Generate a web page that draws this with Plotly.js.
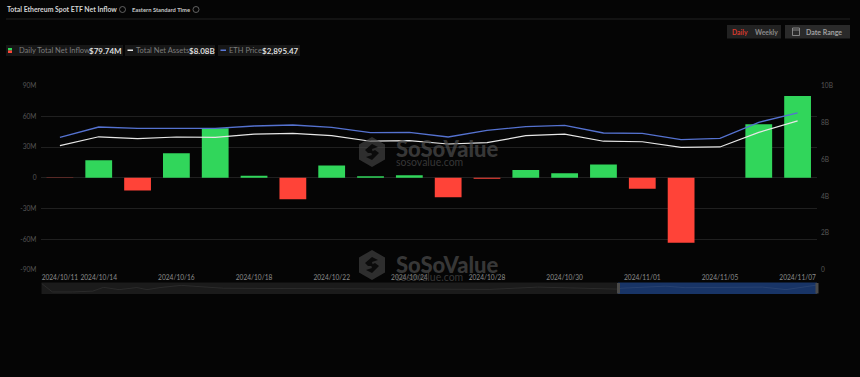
<!DOCTYPE html>
<html><head><meta charset="utf-8">
<script src="https://cdn.plot.ly/plotly-3.0.1.min.js"></script>
<style>html,body{margin:0;padding:0;background:#050505;overflow:hidden}#c{width:860px;height:377px}</style>
</head><body><div id="c"></div>
<script>
const dates=['2024/10/11','2024/10/14','2024/10/15','2024/10/16','2024/10/17','2024/10/18','2024/10/21','2024/10/22','2024/10/23','2024/10/24','2024/10/25','2024/10/28','2024/10/29','2024/10/30','2024/10/31','2024/11/01','2024/11/04','2024/11/05','2024/11/06','2024/11/07'];
const inflow=[-0.3,17,-12.5,24,48.4,2,-21,12,1.5,2.5,-19,-1,7.5,4.3,13,-10.7,-63.4,0,52.3,79.74];
const assets=[6.74,7.22,7.12,7.21,7.19,7.36,7.41,7.28,6.98,7.01,6.83,6.90,7.28,7.36,6.98,6.95,6.65,6.67,7.46,8.08];
const ethPrice=[2446,2635,2611,2611,2611,2654,2672,2630,2530,2538,2451,2575,2641,2667,2525,2519,2401,2427,2722,2895.47];
const xTickDates=['2024/10/11','2024/10/14','2024/10/16','2024/10/18','2024/10/22','2024/10/24','2024/10/28','2024/10/30','2024/11/01','2024/11/05','2024/11/07'];
const leftTicks=[-90,-60,-30,0,30,60,90];
const leftLabels=['-90M','-60M','-30M','0','30M','60M','90M'];
const rightTicks=[0,2,4,6,8,10];
const rightLabels=['0','2B','4B','6B','8B','10B'];
const overviewPos=[0,1.4,4,6.6,8,10,12.3,13.6,15.3,18,23.5,30,40,52,56.5,57.8,64,74.5,74.7,80.5,83,93,96,100];
const overviewVal=[92,18,18,25,58,38,56,38,56,75,50,47,42,40,38,40,60,42,50,68,55,60,38,78];

const W=860,H=377;
const FONT='Lato';
const px=x=>x/W, py=y=>1-y/H;
const rect=(x0,y0,x1,y1,fill,layer)=>({type:'rect',xref:'paper',yref:'paper',x0:px(x0),x1:px(x1),y0:py(y0),y1:py(y1),fillcolor:fill,line:{width:0},layer:layer||'below'});
const line=(x0,y0,x1,y1,c,w)=>({type:'line',xref:'paper',yref:'paper',x0:px(x0),x1:px(x1),y0:py(y0),y1:py(y1),line:{color:c,width:w||1},layer:'below'});
const circ=(cx,cy,r,c)=>({type:'circle',xref:'paper',yref:'paper',x0:px(cx-r),x1:px(cx+r),y0:py(cy+r),y1:py(cy-r),line:{color:c,width:0.8},fillcolor:'rgba(0,0,0,0)',layer:'below'});
const poly=(pts,fill)=>({type:'path',xref:'paper',yref:'paper',path:'M'+pts.map(p=>px(p[0])+','+py(p[1])).join('L')+'Z',fillcolor:fill,line:{width:0},layer:'above'});
const hex=(cx,cy)=>{const r=15,k=13;return [
 poly([[cx,cy-r],[cx+k,cy-r/2],[cx+k,cy+r/2],[cx,cy+r],[cx-k,cy+r/2],[cx-k,cy-r/2]],'rgba(72,72,72,0.62)'),
 poly([[cx-7,cy-2],[cx,cy-8],[cx+6,cy-5],[cx,cy-3],[cx+1,cy+1],[cx-4,cy+1]],'#0b0b0b'),
 poly([[cx+7,cy+1],[cx,cy+8],[cx-6,cy+5],[cx,cy+3],[cx-1,cy],[cx+3,cy-2]],'#0b0b0b')];};
const txt=(x,y,t,size,color,anchor,weight)=>({xref:'paper',yref:'paper',x:px(x),y:py(y),text:t,showarrow:false,xanchor:anchor||'left',yanchor:'middle',borderpad:0,font:{size,color,family:FONT,weight:weight||400}});

const shapes=[
 line(6,19,850,19,'#232323',1),
 circ(122.5,9.5,3,'#777'),circ(196,9.5,3,'#777'),
 rect(6,45,123,56,'#171717'),rect(125,45,215,56,'#171717'),rect(218,45,300,56,'#171717'),
 rect(8,48,12,50.5,'#31d65b'),rect(8,50.5,12,53,'#ff4338'),
 rect(127.5,49.5,133,51,'#e8e8e8'),rect(220.5,49.5,226,51,'#5b78d8'),
 rect(727,25,781,38.5,'#222222'),rect(785,25,850,38.5,'#2a2a2a'),
 {type:'rect',xref:'paper',yref:'paper',x0:px(792.5),x1:px(799.5),y0:py(35.5),y1:py(28),line:{color:'#9a9a9a',width:0.8},fillcolor:'rgba(0,0,0,0)',layer:'below'},
 line(792.5,30,799.5,30,'#9a9a9a',0.8),
 rect(41.5,282.5,618,294,'#1b1b1b'),
 rect(618,282.5,817,294,'#183466'),
 rect(617,283,620,293.5,'#4a4a4a','above'),rect(815.5,283,818.5,293.5,'#4a4a4a','above'),
 ...hex(372,152),...hex(372,265)
];
const annotations=[
 txt(5.5,9.5,'Total Ethereum Spot ETF Net Inflow',6.9,'#d4d4d4','left',700),
 txt(130.5,9.5,'Eastern Standard Time',5.8,'#c8c8c8','left',700),
 txt(17.5,50.5,'Daily Total Net Inflow',7.5,'#7d7d7d'),
 txt(87.5,50.5,'$79.74M',8,'#dcdcdc','left',700),
 txt(134.5,50.5,'Total Net Assets',7.5,'#7d7d7d'),
 txt(187.5,50.5,'$8.08B',8,'#dcdcdc','left',700),
 txt(227.5,50.5,'ETH Price',7.5,'#7d7d7d'),
 txt(260.5,50.5,'$2,895.47',8,'#dcdcdc','left',700),
 txt(730.5,32,'Daily',6.8,'#d63a2e','left',700),
 txt(754,32,'Weekly',6.8,'#8a8a8a','left',700),
 txt(804.5,32,'Date Range',7,'#a0a0a0','left',700),
 txt(395,149,'SoSoValue',22,'rgba(78,78,78,0.7)','left',900),
 txt(395,162,'sosovalue.com',10.5,'rgba(78,78,78,0.7)','left',400),
 txt(395,264,'SoSoValue',22,'rgba(78,78,78,0.7)','left',900),
 txt(395,277,'sosovalue.com',10.5,'rgba(78,78,78,0.7)','left',400)
];

const traces=[
 {type:'bar',x:dates,y:inflow,yaxis:'y',xaxis:'x',marker:{color:inflow.map(v=>v>=0?'#31d65b':'#ff4338')},hoverinfo:'skip',showlegend:false},
 {type:'scatter',mode:'lines',x:dates,y:assets,yaxis:'y2',xaxis:'x',line:{color:'#e6e6e6',width:1.2},hoverinfo:'skip',showlegend:false},
 {type:'scatter',mode:'lines',x:dates,y:ethPrice,yaxis:'y3',xaxis:'x',line:{color:'#5572d0',width:1.3},hoverinfo:'skip',showlegend:false},
 {type:'scatter',mode:'lines',x:overviewPos,y:overviewVal,xaxis:'x2',yaxis:'y4',line:{color:'rgba(255,255,255,0.09)',width:0.8},hoverinfo:'skip',showlegend:false}
];
const layout={
 width:W,height:H,margin:{l:0,r:0,t:0,b:0},paper_bgcolor:'#050505',plot_bgcolor:'rgba(0,0,0,0)',
 bargap:0.31,showlegend:false,font:{family:FONT},
 xaxis:{domain:[px(40.5),px(817)],type:'category',categoryorder:'array',categoryarray:dates,range:[-0.5,19.5],anchor:'y',tickmode:'array',tickvals:xTickDates,ticktext:xTickDates,tickfont:{size:6.6,color:'#8c8c8c'},showgrid:false,zeroline:false,showline:false,ticks:'',tickangle:0,ticklabelstandoff:2},
 yaxis:{domain:[py(270),py(85.5)],range:[-90,90],tickmode:'array',tickvals:leftTicks,ticktext:leftLabels,tickfont:{size:6.6,color:'#565656'},gridcolor:'#202020',gridwidth:1,zeroline:false,showline:false,ticks:'',ticklabelstandoff:3},
 yaxis2:{domain:[py(270),py(85.5)],overlaying:'y',side:'right',range:[0,10],tickmode:'array',tickvals:rightTicks,ticktext:rightLabels,tickfont:{size:6.6,color:'#565656'},showgrid:false,zeroline:false,showline:false,ticks:'',ticklabelstandoff:3,anchor:'x'},
 yaxis3:{domain:[py(270),py(85.5)],overlaying:'y',side:'right',range:[0,3400],visible:false,showgrid:false,zeroline:false,anchor:'x'},
 xaxis2:{domain:[px(41.5),px(817)],range:[0,100],visible:false,anchor:'y4',fixedrange:true},
 yaxis4:{domain:[py(294),py(282.5)],range:[0,100],visible:false,anchor:'x2',fixedrange:true},
 shapes,annotations
};
Plotly.newPlot('c',traces,layout,{displayModeBar:false,staticPlot:true});
</script></body></html>
